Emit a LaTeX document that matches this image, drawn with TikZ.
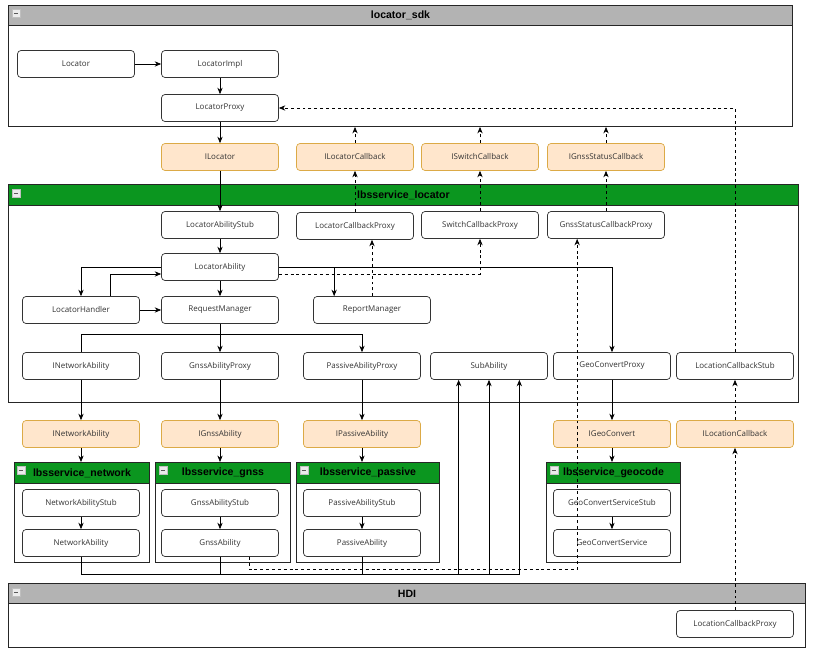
\documentclass[tikz,border=0pt]{standalone}
\usepackage{fontspec}
\setmainfont{Open Sans}
\newfontfamily\headfont{Liberation Sans}
\usetikzlibrary{shapes,arrows,arrows.meta,positioning,calc}
\definecolor{boxline}{RGB}{51,51,51}
\definecolor{ifacefill}{RGB}{255,230,204}
\definecolor{ifaceline}{RGB}{220,170,70}
\definecolor{headgray}{RGB}{179,179,179}
\definecolor{headgreen}{RGB}{11,150,31}
\newcommand{\pxu}{0.03cm}

\begin{document}
\begin{tikzpicture}[
    x=\pxu, y=-\pxu,
    every node/.style={align=center},
    comp/.style={rectangle, rounded corners=3pt, minimum width=117*\pxu, minimum height=27*\pxu, inner sep=1pt, draw=boxline, fill=white, line width=0.6pt, text=black!80, font=\fontsize{6.8}{8}\selectfont},
    iface/.style={comp, draw=ifaceline, fill=ifacefill},
    frame/.style={rectangle, anchor=north west, inner sep=0, draw=black!85, line width=0.8pt, fill=white},
    header/.style={frame, minimum height=20*\pxu, font=\headfont\bfseries\fontsize{9}{10}\selectfont},
    minus/.style={rectangle, draw=black!25, fill=black!8, minimum size=8*\pxu, inner sep=0, path picture={\draw[black!65, line width=0.8pt] ([xshift=-1.8pt]path picture bounding box.center) -- ([xshift=1.8pt]path picture bounding box.center);}},
    arrow/.style={-{Stealth[length=5.5pt, width=4.5pt]}, line width=0.6pt},
    dasharrow/.style={arrow, dash pattern=on 2.5pt off 2.5pt},
    link/.style={line width=0.6pt}
]
\useasboundingbox (0,0) rectangle (820,652);

% Containers
\node[frame, minimum width=784*\pxu, minimum height=121*\pxu] (sdk) at (8,5) {};
\node[header, fill=headgray, minimum width=784*\pxu] (sdkhead) at (8,5) {locator\_sdk};
\node[minus] (sdkmin) at (16,13) {};

\node[frame, minimum width=790*\pxu, minimum height=218*\pxu] (locsvc) at (8,184) {};
\node[header, fill=headgreen, minimum width=790*\pxu, minimum height=21*\pxu] (locsvchead) at (8,184) {lbsservice\_locator};
\node[minus] (locsvcmin) at (16,193) {};

\node[frame, minimum width=135*\pxu, minimum height=100*\pxu] (net) at (14,462) {};
\node[header, fill=headgreen, minimum width=135*\pxu, minimum height=21*\pxu] (nethead) at (14,462) {lbsservice\_network};
\node[minus] (netmin) at (21,470) {};

\node[frame, minimum width=135*\pxu, minimum height=100*\pxu] (gnss) at (155,462) {};
\node[header, fill=headgreen, minimum width=135*\pxu, minimum height=21*\pxu] (gnsshead) at (155,462) {lbsservice\_gnss};
\node[minus] (gnssmin) at (163,470) {};

\node[frame, minimum width=143*\pxu, minimum height=100*\pxu] (pass) at (296,462) {};
\node[header, fill=headgreen, minimum width=143*\pxu, minimum height=21*\pxu] (passhead) at (296,462) {lbsservice\_passive};
\node[minus] (passmin) at (304,470) {};

\node[frame, minimum width=134*\pxu, minimum height=100*\pxu] (geo) at (546,462) {};
\node[header, fill=headgreen, minimum width=134*\pxu, minimum height=21*\pxu] (geohead) at (546,462) {lbsservice\_geocode};
\node[minus] (geomin) at (554,470) {};

\node[frame, minimum width=797*\pxu, minimum height=64*\pxu] (hdi) at (8,583) {};
\node[header, fill=headgray, minimum width=797*\pxu] (hdihead) at (8,583) {HDI};
\node[minus] (hdimin) at (16,592) {};

% locator_sdk
\node[comp] (locator) at (76,64) {Locator};
\node[comp] (impl) at (220,64) {LocatorImpl};
\node[comp] (proxy) at (220,108) {LocatorProxy};

% Interfaces to the sdk
\node[iface] (iloc) at (220,157) {ILocator};
\node[iface] (ilcb) at (355,157) {ILocatorCallback};
\node[iface] (iswitch) at (480,157) {ISwitchCallback};
\node[iface] (igss) at (606,157) {IGnssStatusCallback};

% lbsservice_locator
\node[comp] (abstub) at (220,225) {LocatorAbilityStub};
\node[comp] (lcbproxy) at (355,226) {LocatorCallbackProxy};
\node[comp] (swproxy) at (480,225) {SwitchCallbackProxy};
\node[comp] (gssproxy) at (606,225) {GnssStatusCallbackProxy};
\node[comp] (ability) at (220,267) {LocatorAbility};
\node[comp] (handler) at (81,310) {LocatorHandler};
\node[comp] (request) at (220,310) {RequestManager};
\node[comp] (report) at (372,310) {ReportManager};
\node[comp] (netproxy) at (81,366) {INetworkAbility};
\node[comp] (gnssproxy) at (220,366) {GnssAbilityProxy};
\node[comp] (passproxy) at (362,366) {PassiveAbilityProxy};
\node[comp] (subab) at (489,366) {SubAbility};
\node[comp] (geoproxy) at (612,366) {GeoConvertProxy};
\node[comp] (lcbstub) at (735,366) {LocationCallbackStub};

% Interfaces to the services
\node[iface] (inetif) at (81,434) {INetworkAbility};
\node[iface] (ignssif) at (220,434) {IGnssAbility};
\node[iface] (ipassif) at (362,434) {IPassiveAbility};
\node[iface] (igeoif) at (612,434) {IGeoConvert};
\node[iface] (ilcbif) at (735,434) {ILocationCallback};

% Services
\node[comp] (netstub) at (81,503) {NetworkAbilityStub};
\node[comp] (netab) at (81,543) {NetworkAbility};
\node[comp] (gnssstub) at (220,503) {GnssAbilityStub};
\node[comp] (gnssab) at (220,543) {GnssAbility};
\node[comp] (passstub) at (362,503) {PassiveAbilityStub};
\node[comp] (passab) at (362,543) {PassiveAbility};
\node[comp] (geostub) at (612,503) {GeoConvertServiceStub};
\node[comp] (geoserv) at (612,543) {GeoConvertService};

% HDI
\node[comp] (lcbhdi) at (735,624) {LocationCallbackProxy};

% Connections
\draw[arrow] (locator) -- (impl);
\draw[arrow] (impl) -- (proxy);
\draw[arrow] (proxy) -- (iloc);
\draw[arrow] (iloc) -- (abstub);
\draw[arrow] (abstub) -- (ability);
\draw[arrow] (ability) -- (request);
\draw[arrow] (ability.west) -| (handler.north);
\draw[arrow] ($(handler.north)+(29,0)$) |- ($(ability.west)+(0,7)$);
\draw[arrow] (handler) -- (request);
\draw[arrow] (ability.east) -| (geoproxy.north);
\draw[arrow] (ability.east) -| ($(report.north west)+(21,0)$);
\draw[dasharrow] ($(ability.east)+(0,7)$) -| (swproxy.south);
\draw[dasharrow] (report.north) -- (report.north |- lcbproxy.south);

\draw[dasharrow] (lcbproxy) -- (ilcb);
\draw[dasharrow] (swproxy) -- (iswitch);
\draw[dasharrow] (gssproxy) -- (igss);
\draw[dasharrow] (ilcb.north) -- (ilcb.north |- sdk.south);
\draw[dasharrow] (iswitch.north) -- (iswitch.north |- sdk.south);
\draw[dasharrow] (igss.north) -- (igss.north |- sdk.south);
\draw[dasharrow] (lcbstub.north) |- (proxy.east);

\draw[link] (request.south) -- ++(0,10.5) coordinate (split);
\draw[link] (split) -| (netproxy.north);
\draw[arrow] (split) -- (gnssproxy.north);
\draw[arrow] (split) -| (passproxy.north);

\draw[arrow] (netproxy) -- (inetif);
\draw[arrow] (gnssproxy) -- (ignssif);
\draw[arrow] (passproxy) -- (ipassif);
\draw[arrow] (geoproxy) -- (igeoif);
\draw[arrow] (inetif.south) -- (inetif.south |- nethead.north);
\draw[arrow] (ignssif.south) -- (ignssif.south |- gnsshead.north);
\draw[arrow] (ipassif.south) -- (ipassif.south |- passhead.north);
\draw[arrow] (igeoif.south) -- (igeoif.south |- geohead.north);

\draw[arrow] (netstub) -- (netab);
\draw[arrow] (gnssstub) -- (gnssab);
\draw[arrow] (passstub) -- (passab);
\draw[arrow] (geostub) -- (geoserv);

\draw[arrow] (netab.south) -- ++(0,17.5) -| ($(subab.south west)+(28.5,0)$);
\draw[arrow] (gnssab.south) -- ++(0,17.5) -| (subab.south);
\draw[arrow] (passab.south) -- ++(0,17.5) -| ($(subab.south east)+(-28.5,0)$);
\draw[dasharrow] ($(gnssab.south east)+(-29.5,0)$) -- ++(0,12.5) -| ($(gssproxy.south west)+(30,0)$);

\draw[dasharrow] (lcbhdi) -- (ilcbif);
\draw[dasharrow] (ilcbif) -- (lcbstub);

\end{tikzpicture}
\end{document}
